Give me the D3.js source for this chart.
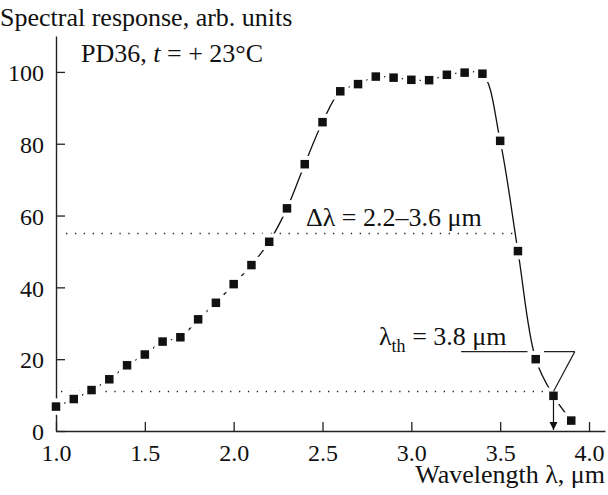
<!DOCTYPE html>
<html><head><meta charset="utf-8">
<script src="https://cdn.jsdelivr.net/npm/d3@7"></script>
<style>
body{margin:0;background:#fff;}
svg text{font-family:"Liberation Serif","Times New Roman",serif !important;fill:#111;}
</style></head>
<body><svg id="c" width="608" height="495"></svg>
<script>
const wavelength = [1.0,1.1,1.2,1.3,1.4,1.5,1.6,1.7,1.8,1.9,2.0,2.1,2.2,2.3,2.4,2.5,2.6,2.7,2.8,2.9,3.0,3.1,3.2,3.3,3.4,3.5,3.6,3.7,3.8,3.9];
const response = [6.8,8.9,11.4,14.4,18.3,21.3,24.9,26.1,31.1,35.7,40.9,46.2,52.7,62.0,74.3,86.0,94.6,96.6,98.7,98.4,97.8,97.7,99.2,99.8,99.5,80.8,50.1,20.0,9.8,2.9];
const xTicks = [1.0,1.5,2.0,2.5,3.0,3.5,4.0];
const yTicks = [0,20,40,60,80,100];
const halfLevel = 55;
const thresholdLevel = 11;
const thresholdWl = 3.8;

const svg = d3.select("#c");
const x = d3.scaleLinear().domain([1, 4.09]).range([56, 605]);
const y = d3.scaleLinear().domain([0, 110]).range([431, 36]);

// axes
const xa = svg.append("g").attr("transform", `translate(0,${y(0)})`)
  .call(d3.axisBottom(x).tickValues(xTicks).tickSizeInner(-9).tickSizeOuter(0).tickFormat(d3.format(".1f")));
const ya = svg.append("g").attr("transform", `translate(${x(1)},0)`)
  .call(d3.axisLeft(y).tickValues(yTicks).tickSizeInner(-9).tickSizeOuter(0).tickFormat(d3.format("d")));
[xa, ya].forEach(a => {
  a.attr("font-family", null).attr("font-size", null);
  a.select(".domain").attr("stroke", "#222").attr("stroke-width", 1.4);
  a.selectAll(".tick line").attr("stroke", "#222").attr("stroke-width", 1.3);
  a.selectAll(".tick text").style("font-family", '"Liberation Serif", serif').style("font-size", "24px").attr("fill", "#111");
});
xa.selectAll(".tick text").attr("y", 30).attr("dy", "0");
ya.selectAll(".tick text").attr("x", -12).attr("dy", "0.36em");

// dotted reference lines
svg.append("line").attr("x1", x(1) + 10).attr("x2", 513)
  .attr("y1", y(halfLevel)).attr("y2", y(halfLevel))
  .attr("stroke", "#222").attr("stroke-width", 1.3).attr("stroke-dasharray", "1.3,7.6");
svg.append("line").attr("x1", x(1) + 5).attr("x2", 547)
  .attr("y1", y(thresholdLevel)).attr("y2", y(thresholdLevel))
  .attr("stroke", "#222").attr("stroke-width", 1.3).attr("stroke-dasharray", "1.3,7.6");

const pts = wavelength.map((w, i) => [w, response[i]]);
const line = d3.line().x(d => x(d[0])).y(d => y(d[1])).curve(d3.curveCatmullRom.alpha(0.5));
svg.append("path").attr("d", line(pts)).attr("fill", "none").attr("stroke", "#111").attr("stroke-width", 1.3);

// threshold annotation
svg.append("line").attr("x1", x(3.28)).attr("x2", x(3.92)).attr("y1", y(22.1)).attr("y2", y(22.1))
  .attr("stroke", "#222").attr("stroke-width", 1.2);
svg.append("defs").append("marker").attr("id", "arr").attr("viewBox", "0 0 10 10")
  .attr("refX", 10).attr("refY", 5).attr("markerWidth", 8).attr("markerHeight", 10)
  .attr("markerUnits", "userSpaceOnUse").attr("orient", "auto")
  .append("path").attr("d", "M0,0L10,5L0,10Z").attr("fill", "#111");

// markers with white halo
const ms = 8.5, halo = 4;
svg.append("g").selectAll("rect").data(pts).join("rect")
  .attr("x", d => x(d[0]) - ms/2 - halo).attr("y", d => y(d[1]) - ms/2 - halo)
  .attr("width", ms + 2*halo).attr("height", ms + 2*halo).attr("fill", "#fff");
svg.append("g").selectAll("rect").data(pts).join("rect")
  .attr("x", d => x(d[0]) - ms/2).attr("y", d => y(d[1]) - ms/2)
  .attr("width", ms).attr("height", ms).attr("fill", "#111");
svg.append("line").attr("x1", x(thresholdWl)).attr("x2", x(thresholdWl))
  .attr("y1", y(9.8) + ms/2).attr("y2", y(0) - 1)
  .attr("stroke", "#111").attr("stroke-width", 1.2).attr("marker-end", "url(#arr)");
svg.append("line").attr("x1", x(3.92)).attr("x2", x(thresholdWl)).attr("y1", y(22.1)).attr("y2", y(9.8) - ms/2)
  .attr("stroke", "#222").attr("stroke-width", 1.2);

// texts
svg.append("text").attr("x", 0).attr("y", 26).attr("font-size", 26).text("Spectral response, arb. units");
const t1 = svg.append("text").attr("x", 81).attr("y", 62).attr("font-size", 26);
t1.append("tspan").text("PD36, ");
t1.append("tspan").attr("font-style", "italic").text("t");
t1.append("tspan").text(" = + 23°C");
svg.append("text").attr("x", 605).attr("y", 483).attr("text-anchor", "end").attr("font-size", 26).text("Wavelength λ, μm");
svg.append("text").attr("x", 306).attr("y", 226).attr("font-size", 26).text("Δλ = 2.2–3.6 μm");
const t2 = svg.append("text").attr("x", 379).attr("y", 345).attr("font-size", 26);
t2.append("tspan").text("λ");
t2.append("tspan").attr("font-size", 18).attr("dy", 7).text("th");
t2.append("tspan").attr("dy", -7).text(" = 3.8 μm");
</script></body></html>
